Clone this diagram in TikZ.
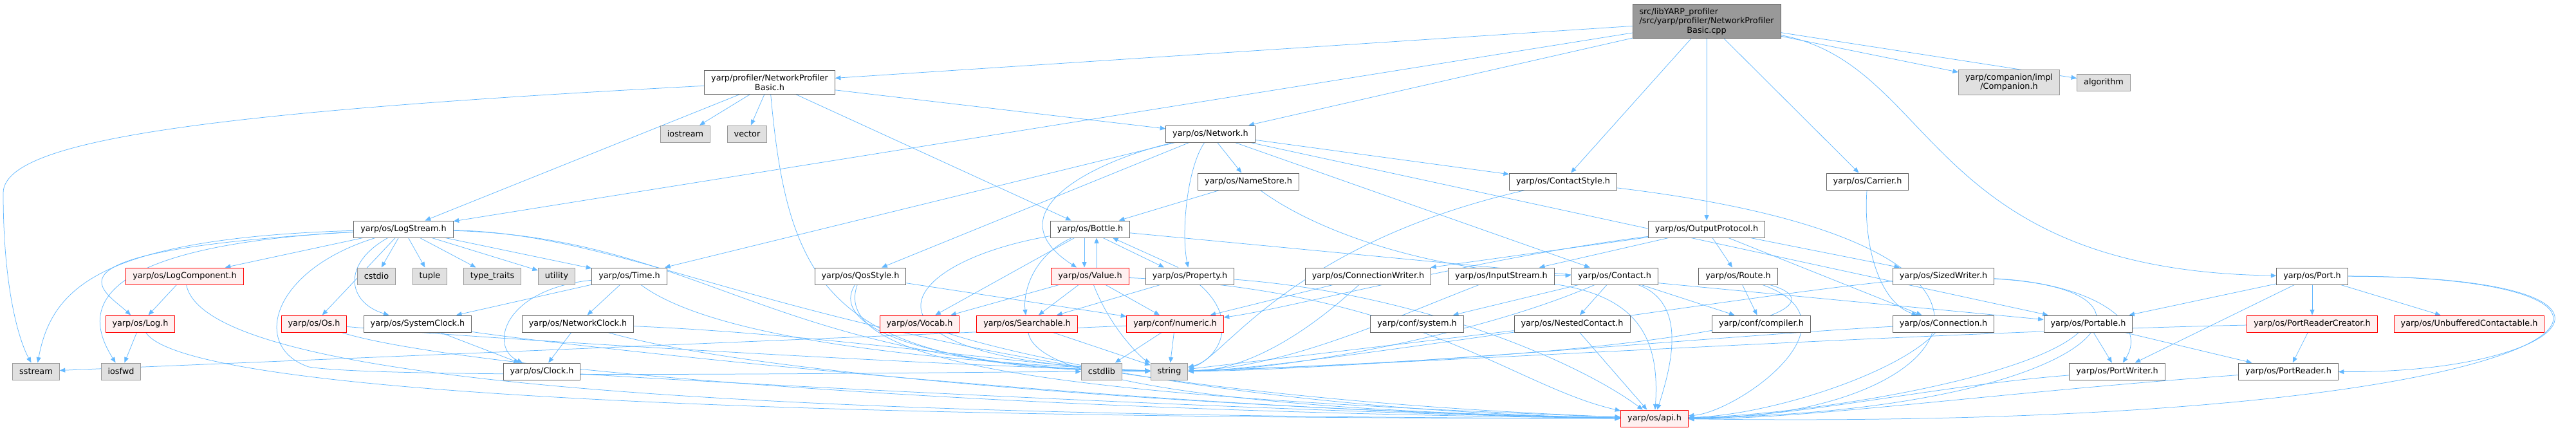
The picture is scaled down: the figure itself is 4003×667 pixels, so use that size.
\documentclass[tikz,border=0pt]{standalone}
\usepackage{fontspec}
\setmainfont{DejaVu Sans}
\usetikzlibrary{arrows.meta,positioning,backgrounds}
\definecolor{incblue}{HTML}{63B8FF}
\definecolor{sysfill}{HTML}{E0E0E0}
\definecolor{redfill}{HTML}{FFF0F0}
\definecolor{grey40}{HTML}{666666}
\definecolor{grey60}{HTML}{999999}

\begin{document}
\begin{tikzpicture}[x=1pt, y=1pt, >={Triangle[length=8.5pt,width=7pt]},
  hdr/.style = {draw=grey40, fill=white, line width=1pt, inner xsep=10.5pt, inner ysep=6pt,
                minimum height=26pt, align=center, font=\fontsize{12.8}{14.5}\selectfont},
  syshdr/.style = {hdr, draw=grey60, fill=sysfill},
  redhdr/.style = {hdr, draw=red, fill=redfill},
  mainhdr/.style = {hdr, fill=grey60},
  inc/.style = {->, draw=incblue, line width=0.75pt}]
  \useasboundingbox (0,0) rectangle (4003,-667);

  \node[mainhdr] (main) at (2652,-33) {\setbox0\hbox{/src/yarp/profiler/NetworkProfiler}\hbox to \wd0{src/libYARP\_profiler\hfil}\\/src/yarp/profiler/NetworkProfiler\\Basic.cpp};

  \node[hdr] (npb) at (1196,-128) {yarp/profiler/NetworkProfiler\\Basic.h};
  \node[syshdr] (companion) at (3122,-128) {yarp/companion/impl\\/Companion.h};
  \node[syshdr] (algorithm) at (3269,-128) {algorithm};

  \node[syshdr] (iostream) at (1065,-208) {iostream};
  \node[syshdr] (vector) at (1161,-208) {vector};
  \node[hdr] (network) at (1881,-208) {yarp/os/Network.h};

  \node[hdr] (namestore) at (1940,-282) {yarp/os/NameStore.h};
  \node[hdr] (contactstyle) at (2429,-282) {yarp/os/ContactStyle.h};
  \node[hdr] (carrier) at (2902,-282) {yarp/os/Carrier.h};

  \node[hdr] (logstream) at (627,-356) {yarp/os/LogStream.h};
  \node[hdr] (bottle) at (1694,-356) {yarp/os/Bottle.h};
  \node[hdr] (outproto) at (2652,-356) {yarp/os/OutputProtocol.h};

  \node[redhdr] (logcomp) at (287,-429) {yarp/os/LogComponent.h};
  \node[syshdr] (cstdio) at (585,-429) {cstdio};
  \node[syshdr] (tuple) at (668,-429) {tuple};
  \node[syshdr] (typetraits) at (765,-429) {type\_traits};
  \node[syshdr] (utility) at (865,-429) {utility};
  \node[hdr] (time) at (978,-429) {yarp/os/Time.h};
  \node[hdr] (qosstyle) at (1337,-429) {yarp/os/QosStyle.h};
  \node[redhdr] (value) at (1694,-429) {yarp/os/Value.h};
  \node[hdr] (property) at (1849,-429) {yarp/os/Property.h};
  \node[hdr] (connwriter) at (2126,-429) {yarp/os/ConnectionWriter.h};
  \node[hdr] (inputstream) at (2333,-429) {yarp/os/InputStream.h};
  \node[hdr] (contact) at (2509,-429) {yarp/os/Contact.h};
  \node[hdr] (route) at (2701,-429) {yarp/os/Route.h};
  \node[hdr] (sizedwriter) at (3020,-429) {yarp/os/SizedWriter.h};
  \node[hdr] (port) at (3593,-429) {yarp/os/Port.h};

  \node[redhdr] (log) at (218,-503) {yarp/os/Log.h};
  \node[redhdr] (os) at (488,-503) {yarp/os/Os.h};
  \node[hdr] (sysclock) at (649,-503) {yarp/os/SystemClock.h};
  \node[hdr] (netclock) at (898,-503) {yarp/os/NetworkClock.h};
  \node[redhdr] (vocab) at (1429,-503) {yarp/os/Vocab.h};
  \node[redhdr] (searchable) at (1596,-503) {yarp/os/Searchable.h};
  \node[redhdr] (numeric) at (1826,-503) {yarp/conf/numeric.h};
  \node[hdr] (system) at (2202,-503) {yarp/conf/system.h};
  \node[hdr] (nested) at (2443,-503) {yarp/os/NestedContact.h};
  \node[hdr] (compiler) at (2737,-503) {yarp/conf/compiler.h};
  \node[hdr] (connection) at (3020,-503) {yarp/os/Connection.h};
  \node[hdr] (portable) at (3245,-503) {yarp/os/Portable.h};
  \node[redhdr] (readercreator) at (3593,-503) {yarp/os/PortReaderCreator.h};
  \node[redhdr] (unbuffered) at (3837,-503) {yarp/os/UnbufferedContactable.h};

  \node[syshdr] (sstream) at (56,-577) {sstream};
  \node[syshdr] (iosfwd) at (188,-577) {iosfwd};
  \node[hdr] (clock) at (842,-577) {yarp/os/Clock.h};
  \node[syshdr] (cstdlib) at (1712,-577) {cstdlib};
  \node[syshdr] (string) at (1817,-577) {string};
  \node[hdr] (portwriter) at (3290,-577) {yarp/os/PortWriter.h};
  \node[hdr] (portreader) at (3556,-577) {yarp/os/PortReader.h};

  \node[redhdr] (api) at (2571,-650) {yarp/os/api.h};

  \begin{pgfonlayer}{background}
  \draw[inc] (main) to (npb);
  \draw[inc] (main) to (logstream);
  \draw[inc] (main) to (network);
  \draw[inc] (main) to (contactstyle);
  \draw[inc] (main) to (outproto);
  \draw[inc] (main) to (carrier);
  \draw[inc] (main) to (companion);
  \draw[inc] (main) to (algorithm);
  \draw[inc] (main) .. controls (3010,-100) and (2990,-420) .. (port);

  \draw[inc] (npb) .. controls (300,-175) and (5,-220) .. (5,-300) .. controls (5,-450) and (30,-530) .. (sstream);
  \draw[inc] (npb) to (logstream);
  \draw[inc] (npb) to (iostream);
  \draw[inc] (npb) to (vector);
  \draw[inc] (npb) .. controls (1225,-450) and (1290,-575) .. (string);
  \draw[inc] (npb) to (network);
  \draw[inc] (npb) to (bottle);

  \draw[inc] (network) to (time);
  \draw[inc] (network) to (qosstyle);
  \draw[inc] (network) .. controls (1700,-250) and (1540,-330) .. (value);
  \draw[inc] (network) .. controls (1845,-260) and (1835,-360) .. (property);
  \draw[inc] (network) to (namestore);
  \draw[inc] (network) to (contact);
  \draw[inc] (network) to (portable);
  \draw[inc] (network) to (contactstyle);

  \draw[inc] (namestore) to (bottle);
  \draw[inc] (namestore) .. controls (2060,-370) and (2250,-425) .. (contact);

  \draw[inc] (logstream) .. controls (150,-370) and (80,-450) .. (sstream);
  \draw[inc] (logstream) .. controls (100,-385) and (140,-500) .. (iosfwd);
  \draw[inc] (logstream) .. controls (40,-390) and (160,-450) .. (log);
  \draw[inc] (logstream) to (logcomp);
  \draw[inc] (logstream) to (cstdio);
  \draw[inc] (logstream) to (tuple);
  \draw[inc] (logstream) to (typetraits);
  \draw[inc] (logstream) to (utility);
  \draw[inc] (logstream) to (time);
  \draw[inc] (logstream) to (os);
  \draw[inc] (logstream) .. controls (530,-410) and (540,-470) .. (sysclock);
  \draw[inc] (logstream) .. controls (420,-420) and (390,-540) .. (480,-570) .. controls (600,-590) and (1500,-578) .. (cstdlib);
  \draw[inc] (logstream) .. controls (1100,-370) and (1200,-570) .. (string);
  \draw[inc] (logstream) .. controls (1050,-365) and (1300,-600) .. (api);

  \draw[inc] (logcomp) to (log);
  \draw[inc] (logcomp) .. controls (320,-600) and (1200,-648) .. (api);
  \draw[inc] (log) to (iosfwd);
  \draw[inc] (log) .. controls (280,-600) and (1000,-650) .. (api);
  \draw[inc] (os) .. controls (700,-570) and (1500,-640) .. (api);
  \draw[inc] (os) .. controls (800,-530) and (1500,-570) .. (string);
  \draw[inc] (sysclock) to (clock);
  \draw[inc] (sysclock) .. controls (900,-540) and (1800,-640) .. (api);
  \draw[inc] (time) to (sysclock);
  \draw[inc] (time) to (netclock);
  \draw[inc] (time) .. controls (780,-450) and (760,-540) .. (clock);
  \draw[inc] (time) .. controls (1100,-520) and (1400,-560) .. (string);
  \draw[inc] (netclock) to (clock);
  \draw[inc] (netclock) .. controls (1200,-590) and (2000,-640) .. (api);
  \draw[inc] (netclock) .. controls (1300,-520) and (1600,-570) .. (string);
  \draw[inc] (clock) .. controls (1200,-600) and (2100,-645) .. (api);

  \draw[inc] (qosstyle) to (numeric);
  \draw[inc] (qosstyle) .. controls (1280,-520) and (1500,-575) .. (string);
  \draw[inc] (qosstyle) .. controls (1290,-560) and (1600,-615) .. (api);

  \draw[inc] ([xshift=-9pt]bottle.south) -- ([xshift=-9pt]value.north);
  \draw[inc] ([xshift=20pt]bottle.south) -- ([xshift=-40pt]property.north);
  \draw[inc] (bottle) .. controls (1600,-400) and (1590,-460) .. (searchable);
  \draw[inc] (bottle) to (vocab);
  \draw[inc] (bottle) .. controls (1380,-410) and (1300,-560) .. (string);
  \draw[inc] (bottle) to (portable);

  \draw[inc] ([xshift=10pt]value.north) -- ([xshift=10pt]bottle.south);
  \draw[inc] (value) to (vocab);
  \draw[inc] (value) to (searchable);
  \draw[inc] (value) to (numeric);
  \draw[inc] (value) .. controls (1730,-520) and (1780,-560) .. (string);
  \draw[inc] (value) .. controls (2200,-450) and (2350,-600) .. (api);

  \draw[inc] ([xshift=-18pt]property.north) -- ([xshift=35pt]bottle.south);
  \draw[inc] (property) to (searchable);
  \draw[inc] (property) .. controls (1930,-500) and (1890,-560) .. (string);
  \draw[inc] (property) .. controls (2200,-455) and (2450,-560) .. (api);

  \draw[inc] (vocab) .. controls (1600,-560) and (2000,-640) .. (api);
  \draw[inc] (searchable) to (string);
  \draw[inc] (searchable) .. controls (1610,-600) and (2000,-640) .. (api);
  \draw[inc] (numeric) to (sstream);
  \draw[inc] (numeric) to (cstdlib);
  \draw[inc] (numeric) to (string);

  \draw[inc] (contactstyle) .. controls (2000,-380) and (1900,-560) .. (string);
  \draw[inc] (contactstyle) .. controls (3250,-380) and (3050,-650) .. (api);

  \draw[inc] (outproto) to (connwriter);
  \draw[inc] (outproto) to (inputstream);
  \draw[inc] (outproto) to (route);
  \draw[inc] (outproto) to (connection);
  \draw[inc] (outproto) to (sizedwriter);
  \draw[inc] (outproto) .. controls (2300,-400) and (2000,-480) .. (numeric);

  \draw[inc] (connwriter) to (numeric);
  \draw[inc] (connwriter) .. controls (2050,-500) and (1950,-575) .. (string);
  \draw[inc] (inputstream) .. controls (2540,-460) and (2580,-520) .. (api);
  \draw[inc] (inputstream) .. controls (2150,-500) and (2000,-570) .. (string);
  \draw[inc] (contact) to (system);
  \draw[inc] (contact) to (nested);
  \draw[inc] (contact) to (compiler);
  \draw[inc] (contact) .. controls (2300,-520) and (2000,-575) .. (string);
  \draw[inc] (contact) .. controls (2620,-470) and (2600,-560) .. (api);
  \draw[inc] (nested) to (api);
  \draw[inc] (nested) to (string);

  \draw[inc] (route) to (compiler);
  \draw[inc] (route) .. controls (2850,-470) and (2780,-545) .. (string);
  \draw[inc] (route) .. controls (2900,-500) and (2700,-640) .. (api);
  \draw[inc] (sizedwriter) .. controls (3250,-440) and (3340,-500) .. (portwriter);
  \draw[inc] (sizedwriter) .. controls (3420,-450) and (3250,-640) .. (api);
  \draw[inc] (sizedwriter) .. controls (2700,-460) and (2000,-575) .. (string);
  \draw[inc] (connection) .. controls (2950,-580) and (2750,-645) .. (api);
  \draw[inc] (connection) .. controls (2700,-520) and (2100,-575) .. (string);
  \draw[inc] (carrier) .. controls (2895,-380) and (2920,-470) .. (connection);

  \draw[inc] (portable) to (portwriter);
  \draw[inc] (portable) to (portreader);
  \draw[inc] (portable) .. controls (3150,-590) and (2800,-645) .. (api);
  \draw[inc] (port) to (portable);
  \draw[inc] (port) to (portwriter);
  \draw[inc] (port) to (readercreator);
  \draw[inc] (port) to (unbuffered);
  \draw[inc] (port) .. controls (4150,-430) and (4000,-580) .. (portreader);
  \draw[inc] (port) .. controls (4250,-430) and (4050,-670) .. (api);
  \draw[inc] (readercreator) to (portreader);
  \draw[inc] (readercreator) .. controls (3000,-515) and (2100,-570) .. (string);
  \draw[inc] (portwriter) .. controls (3000,-600) and (2800,-648) .. (api);
  \draw[inc] (portreader) .. controls (3100,-610) and (2800,-652) .. (api);
  \end{pgfonlayer}
\end{tikzpicture}
\end{document}
